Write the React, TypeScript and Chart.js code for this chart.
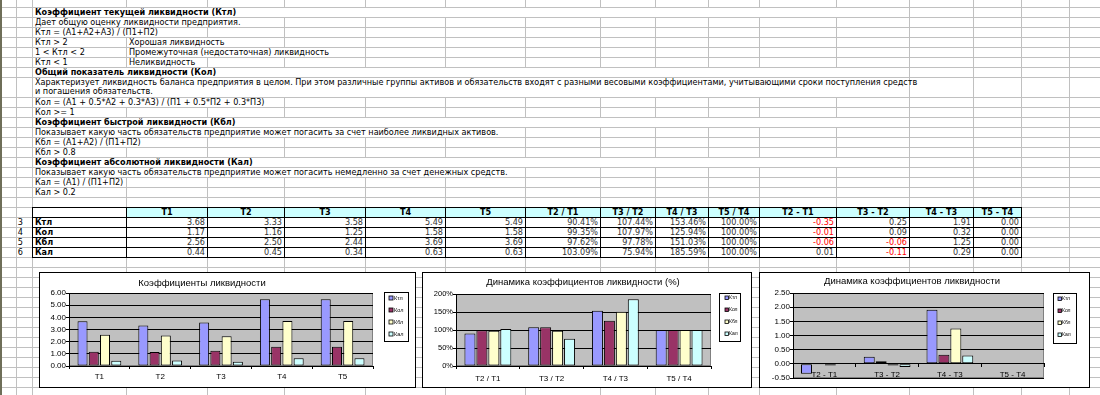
import React, { useEffect, useRef } from 'react';
import { Chart, registerables } from 'chart.js';

Chart.register(...registerables);

// ---------- data ----------
const seriesNames = ['Ктл', 'Кол', 'Кбл', 'Кал'];
const periodLabels = ['T1', 'T2', 'T3', 'T4', 'T5'];
const ktlValues = [3.68, 3.33, 3.58, 5.49, 5.49];
const kolValues = [1.17, 1.16, 1.25, 1.58, 1.58];
const kblValues = [2.56, 2.5, 2.44, 3.69, 3.69];
const kalValues = [0.44, 0.45, 0.34, 0.63, 0.63];

const ratioLabels = ['T2 / T1', 'T3 / T2', 'T4 / T3', 'T5 / T4'];
const ktlRatio = [90.41, 107.44, 153.46, 100.0];
const kolRatio = [99.35, 107.97, 125.94, 100.0];
const kblRatio = [97.62, 97.78, 151.03, 100.0];
const kalRatio = [103.09, 75.94, 185.59, 100.0];

const diffLabels = ['T2 - T1', 'T3 - T2', 'T4 - T3', 'T5 - T4'];
const ktlDiff = [-0.35, 0.25, 1.91, 0.0];
const kolDiff = [-0.01, 0.09, 0.32, 0.0];
const kblDiff = [-0.06, -0.06, 1.25, 0.0];
const kalDiff = [0.01, -0.11, 0.29, 0.0];

const levelTicks = [0, 6, 1];
const ratioTicks = [0, 200, 50];
const diffTicks = [-0.5, 2.5, 0.5];

const seriesColors = ['#9999ff', '#993366', '#ffffcc', '#ccffff'];

// ---------- layout constants ----------
const gridCols = [16, 32, 126, 207, 284, 365, 445, 525, 600, 655, 708, 759, 836, 909, 973, 1021, 1069];
const tableCols = [32, 126, 207, 284, 365, 445, 525, 600, 655, 708, 759, 836, 909, 973, 1021];
const sheetFont = "'DejaVu Sans Condensed', 'DejaVu Sans', sans-serif";
const chartFont = "'Liberation Sans', Arial, sans-serif";
const rowTop = (k: number) => 7 + 10 * k;

const excelDecor = {
  id: 'excelDecor',
  beforeDraw(chart: any) {
    const { ctx, chartArea: a } = chart;
    ctx.save();
    ctx.fillStyle = '#c0c0c0';
    ctx.fillRect(a.left, a.top, a.right - a.left, a.bottom - a.top);
    ctx.strokeStyle = '#808080';
    ctx.lineWidth = 1;
    ctx.strokeRect(Math.round(a.left) + 0.5, Math.round(a.top) + 0.5, Math.round(a.right - a.left) - 1, Math.round(a.bottom - a.top) - 1);
    ctx.restore();
  },
  afterDraw(chart: any, _args: any, opts: any) {
    const { ctx } = chart;
    ctx.save();
    ctx.fillStyle = '#000';
    ctx.textAlign = 'center';
    ctx.textBaseline = 'middle';
    ctx.font = `${opts.titleSize}px ${chartFont}`;
    ctx.fillText(opts.title, opts.titleX, opts.titleY);
    const L = opts.legend;
    ctx.fillStyle = '#fff';
    ctx.fillRect(L.x, L.y, L.w, L.h);
    ctx.strokeStyle = '#000';
    ctx.lineWidth = 1;
    ctx.strokeRect(L.x + 0.5, L.y + 0.5, L.w - 1, L.h - 1);
    ctx.textAlign = 'left';
    ctx.font = `${L.font}px ${chartFont}`;
    chart.data.datasets.forEach((ds: any, i: number) => {
      const cy = L.y + L.first + i * L.step;
      const sx = L.x + L.sq;
      const sy = Math.round(cy - L.size / 2);
      ctx.fillStyle = ds.backgroundColor;
      ctx.fillRect(sx, sy, L.size, L.size);
      ctx.strokeStyle = '#000';
      ctx.lineWidth = 0.8;
      ctx.strokeRect(sx, sy, L.size, L.size);
      ctx.fillStyle = '#000';
      ctx.fillText(ds.label, L.x + L.tx, cy);
    });
    ctx.restore();
  },
};

type Spec = {
  left: number; top: number; width: number; height: number;
  plot: number[];
  title: string; titleX: number; titleY: number; titleSize: number;
  labels: string[]; series: number[][];
  ticks: number[]; fmt: (v: number) => string;
  zeroAxis?: boolean;
  xPad: number; yFont: number; xFont: number;
  catPct: number; barPct: number;
  legend: any;
};

function ExcelChart({ spec }: { spec: Spec }) {
  const ref = useRef<HTMLCanvasElement>(null);
  const W = spec.width - 2;
  const H = spec.height - 2;
  useEffect(() => {
    const [L, T, R, B] = spec.plot;
    const chart = new Chart(ref.current as HTMLCanvasElement, {
      type: 'bar',
      data: {
        labels: spec.labels,
        datasets: spec.series.map((vals, i) => ({
          label: seriesNames[i],
          data: vals,
          backgroundColor: seriesColors[i],
          borderColor: '#000',
          borderWidth: 1,
          borderSkipped: false,
          categoryPercentage: spec.catPct,
          barPercentage: spec.barPct,
        })),
      },
      options: {
        responsive: false,
        animation: false,
        devicePixelRatio: 1,
        layout: { padding: { left: 0, top: T, right: W - R, bottom: spec.zeroAxis ? H - B : 0 } },
        plugins: {
          legend: { display: false },
          title: { display: false },
          tooltip: { enabled: false },
          excelDecor: {
            title: spec.title, titleX: spec.titleX, titleY: spec.titleY, titleSize: spec.titleSize,
            legend: spec.legend,
          },
        } as any,
        scales: {
          x: {
            position: spec.zeroAxis ? ({ y: 0 } as any) : 'bottom',
            offset: true,
            grid: { offset: true, drawOnChartArea: false, drawTicks: true, tickLength: 3, color: '#000', lineWidth: 1 },
            border: { display: true, color: '#000', width: 1, z: 1 },
            ticks: { font: { size: spec.xFont, family: chartFont }, color: '#000', padding: spec.xPad, maxRotation: 0, autoSkip: false, z: 1 },
            afterFit: (s: any) => { s.height = spec.zeroAxis ? 20 : H - B; s.paddingLeft = 0; s.paddingRight = 0; },
          },
          y: {
            min: spec.ticks[0],
            max: spec.ticks[1],
            ticks: { stepSize: spec.ticks[2], autoSkip: false, callback: (v: any) => spec.fmt(Number(v)), font: { size: spec.yFont, family: chartFont }, color: '#000', padding: 0 },
            grid: { color: '#000', lineWidth: 1, tickLength: 3, drawTicks: true },
            border: { display: true, color: '#000', width: 1 },
            afterFit: (s: any) => { s.width = L; s.paddingTop = 0; s.paddingBottom = 0; },
          },
        },
      },
      plugins: [excelDecor as any],
    });
    return () => chart.destroy();
  }, []);
  return (
    <div style={{ position: 'absolute', left: spec.left, top: spec.top, width: spec.width, height: spec.height, border: '1px solid #000', boxSizing: 'border-box', background: '#fff' }}>
      <canvas ref={ref} width={W} height={H} style={{ display: 'block', width: W, height: H }} />
    </div>
  );
}

const chartSpecs: Spec[] = [
  {
    left: 39, top: 272, width: 377, height: 116,
    plot: [29, 20, 333, 93],
    title: 'Коэффициенты ликвидности', titleX: 162, titleY: 10, titleSize: 9.5,
    labels: periodLabels, series: [ktlValues, kolValues, kblValues, kalValues],
    ticks: levelTicks, fmt: (v) => v.toFixed(2),
    xPad: 3, yFont: 8, xFont: 8, catPct: 0.74, barPct: 0.89,
    legend: { x: 344, y: 19, w: 25, h: 50, sq: 5, size: 4, tx: 10, first: 6, step: 12, font: 5.5 },
  },
  {
    left: 422, top: 272, width: 330, height: 116,
    plot: [33, 21, 288, 93],
    title: 'Динамика коэффициентов ликвидности (%)', titleX: 160, titleY: 9, titleSize: 9.5,
    labels: ratioLabels, series: [ktlRatio, kolRatio, kblRatio, kalRatio],
    ticks: ratioTicks, fmt: (v) => `${Math.round(v)}%`,
    xPad: 5, yFont: 7.5, xFont: 8, catPct: 0.75, barPct: 0.92,
    legend: { x: 296, y: 20, w: 22, h: 49, sq: 6, size: 3.5, tx: 10, first: 5, step: 12, font: 5 },
  },
  {
    left: 759, top: 272, width: 331, height: 116,
    plot: [33, 20, 284, 105],
    title: 'Динамика коэффициентов ликвидности', titleX: 152, titleY: 8, titleSize: 9.5,
    labels: diffLabels, series: [ktlDiff, kolDiff, kblDiff, kalDiff],
    ticks: diffTicks, fmt: (v) => v.toFixed(2), zeroAxis: true,
    xPad: 3, yFont: 8, xFont: 8, catPct: 0.76, barPct: 0.92,
    legend: { x: 293, y: 20, w: 24, h: 51, sq: 5, size: 3.5, tx: 9, first: 6, step: 12, font: 5 },
  },
];

function Txt({ x, k, children, bold }: { x: number; k: number; children: any; bold?: boolean }) {
  return (
    <div style={{ position: 'absolute', left: x + 1, top: rowTop(k) + 1, height: 9, lineHeight: '9px', paddingLeft: 2, paddingRight: 1, background: '#fff', whiteSpace: 'nowrap', fontWeight: bold ? 'bold' : 'normal' }}>
      {children}
    </div>
  );
}

function Merged({ k, rows = 1, children, bold }: { k: number; rows?: number; children: any; bold?: boolean }) {
  return (
    <div style={{ position: 'absolute', left: 33, top: rowTop(k) + 1, width: 876, height: rows * 10 - 1, lineHeight: '9px', paddingLeft: 2, boxSizing: 'border-box', background: '#fff', whiteSpace: 'nowrap', fontWeight: bold ? 'bold' : 'normal' }}>
      {children}
    </div>
  );
}

const fmtDiff = (v: number) => v.toFixed(2);

export default function App() {
  const hLines: number[] = [];
  for (let y = 7; y < 395; y += 10) if (y !== 87) hLines.push(y);
  const headers = [...periodLabels, ...ratioLabels, ...diffLabels];
  const periodRows = [ktlValues, kolValues, kblValues, kalValues];
  const ratioRows = [ktlRatio, kolRatio, kblRatio, kalRatio];
  const diffRows = [ktlDiff, kolDiff, kblDiff, kalDiff];

  const cell = (x0: number, x1: number, y0: number, content: any, extra: any = {}) => (
    <div key={`${x0}-${y0}`} style={{ position: 'absolute', left: x0, top: y0, width: x1 - x0 + 1, height: 11, border: '1px solid #000', boxSizing: 'border-box', lineHeight: '9px', whiteSpace: 'nowrap', overflow: 'hidden', background: '#fff', ...extra }}>
      {content}
    </div>
  );

  const tableEls: any[] = [];
  const y0 = rowTop(20);
  tableEls.push(cell(tableCols[0], tableCols[1], y0, ''));
  headers.forEach((h, j) => {
    tableEls.push(cell(tableCols[j + 1], tableCols[j + 2], y0, h, { background: '#ccffff', fontWeight: 'bold', textAlign: 'center' }));
  });
  seriesNames.forEach((name, i) => {
    const y = rowTop(21 + i);
    tableEls.push(cell(tableCols[0], tableCols[1], y, name, { fontWeight: 'bold', paddingLeft: 2 }));
    const vals: { t: string; neg: boolean }[] = [
      ...periodRows[i].map((v) => ({ t: v.toFixed(2), neg: false })),
      ...ratioRows[i].map((v) => ({ t: `${v.toFixed(2)}%`, neg: false })),
      ...diffRows[i].map((v) => ({ t: fmtDiff(v), neg: v < 0 })),
    ];
    vals.forEach((v, j) => {
      tableEls.push(cell(tableCols[j + 1], tableCols[j + 2], y, v.t, { textAlign: 'right', paddingRight: 2, color: v.neg ? '#ff0000' : '#333' }));
    });
  });

  return (
    <div style={{ position: 'fixed', left: 0, top: 0, width: 1100, height: 395, overflow: 'hidden', background: '#fff', fontFamily: sheetFont, fontSize: 9, color: '#000', fontStretch: 'condensed' }}>
      {hLines.map((y) => (
        <div key={`h${y}`} style={{ position: 'absolute', left: 0, top: y, width: 1100, height: 1, background: '#c0c0c0' }} />
      ))}
      {gridCols.map((x) => (
        <div key={`v${x}`} style={{ position: 'absolute', left: x, top: 0, width: 1, height: 395, background: '#c0c0c0' }} />
      ))}
      <div style={{ position: 'absolute', left: 0, top: 0, width: 2, height: 395, background: '#6e6e58' }} />

      <Merged k={0} bold>Коэффициент текущей ликвидности (Ктл)</Merged>
      <Txt x={32} k={1}>Дает общую оценку ликвидности предприятия.</Txt>
      <Txt x={32} k={2}>Ктл = (A1+A2+A3) / (П1+П2)</Txt>
      <Txt x={32} k={3}>Ктл &gt; 2</Txt>
      <Txt x={126} k={3}>Хорошая ликвидность</Txt>
      <Txt x={32} k={4}>1 &lt; Ктл &lt; 2</Txt>
      <Txt x={126} k={4}>Промежуточная (недостаточная) ликвидность</Txt>
      <Txt x={32} k={5}>Ктл &lt; 1</Txt>
      <Txt x={126} k={5}>Неликвидность</Txt>
      <Merged k={6} bold>Общий показатель ликвидности (Кол)</Merged>
      <Merged k={7} rows={2}>
        Характеризует ликвидность баланса предприятия в целом. При этом различные группы активов и обязательств входят с разными весовыми коэффициентами, учитывающими сроки поступления средств
        <br />и погашения обязательств.
      </Merged>
      <Txt x={32} k={9}>Кол = (A1 + 0.5*A2 + 0.3*A3) / (П1 + 0.5*П2 + 0.3*П3)</Txt>
      <Txt x={32} k={10}>Кол &gt;= 1</Txt>
      <Merged k={11} bold>Коэффициент быстрой ликвидности (Кбл)</Merged>
      <Txt x={32} k={12}>Показывает какую часть обязательств предприятие может погасить за счет наиболее ликвидных активов.</Txt>
      <Txt x={32} k={13}>Кбл = (A1+A2) / (П1+П2)</Txt>
      <Txt x={32} k={14}>Кбл &gt; 0.8</Txt>
      <Merged k={15} bold>Коэффициент абсолютной ликвидности (Кал)</Merged>
      <Txt x={32} k={16}>Показывает какую часть обязательств предприятие может погасить немедленно за счет денежных средств.</Txt>
      <Txt x={32} k={17}>Кал = (A1) / (П1+П2)</Txt>
      <Txt x={32} k={18}>Кал &gt; 0.2</Txt>

      {seriesNames.map((_, i) => (
        <div key={`rn${i}`} style={{ position: 'absolute', left: 17, top: rowTop(21 + i) + 1, width: 6, height: 9, lineHeight: '9px', textAlign: 'right' }}>
          {i + 3}
        </div>
      ))}
      {tableEls}

      {chartSpecs.map((s, i) => (
        <ExcelChart key={i} spec={s} />
      ))}
    </div>
  );
}
